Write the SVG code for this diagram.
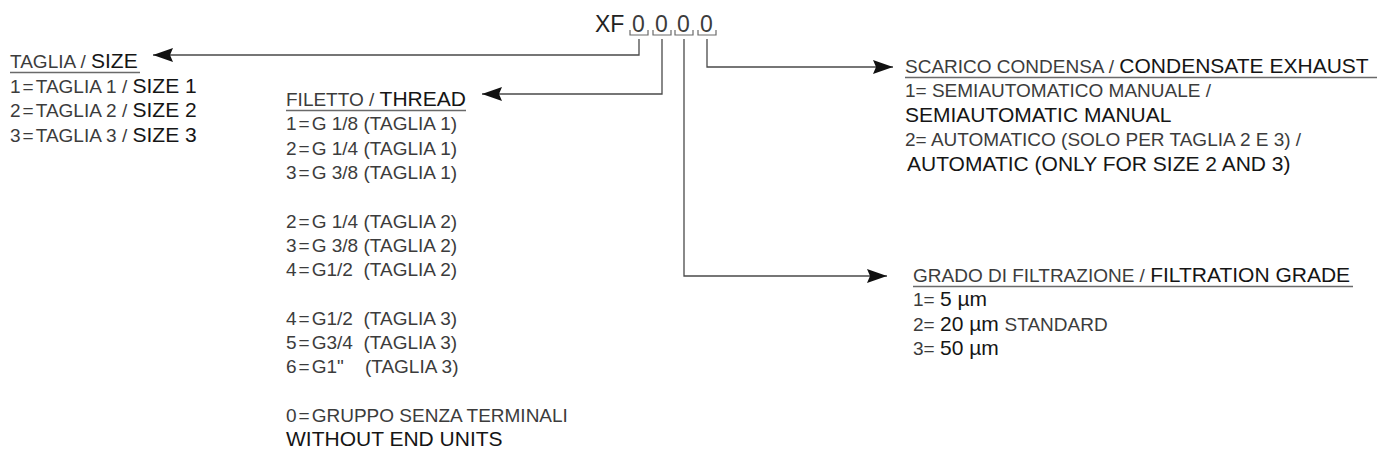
<svg xmlns="http://www.w3.org/2000/svg" width="1381" height="465" viewBox="0 0 1381 465">
<style>
text{font-family:"Liberation Sans",Arial,sans-serif;}
.it{font-size:19px;fill:#3c3c3c;}
.en{font-size:21px;fill:#151515;}
.ttl{font-size:23px;fill:#222;}
.z{font-size:23px;fill:#3c3c3c;text-anchor:middle;}
.ul{stroke:#6a6a6a;stroke-width:1.3;}
.conn{fill:none;stroke:#4a4a4a;stroke-width:1.3;}
.br{fill:none;stroke:#6a6a6a;stroke-width:1.2;}
</style>
<defs>
<marker id="ah" viewBox="0 0 20 14" refX="20" refY="7" markerWidth="20" markerHeight="14" markerUnits="userSpaceOnUse" orient="auto">
<path d="M0,0 L20,7 L0,14 L3,7 Z" fill="#111"/>
</marker>
</defs>
<rect width="1381" height="465" fill="#fff"/>

<g id="code">
<text x="595" y="32" class="ttl">XF</text>
<text x="638.5" y="32" class="z">0</text>
<text x="661.5" y="32" class="z">0</text>
<text x="683.5" y="32" class="z">0</text>
<text x="706.5" y="32" class="z">0</text>
<path class="br" d="M630,30 v5 h18 v-5 M653,30 v5 h18 v-5 M675,30 v5 h18 v-5 M698,30 v5 h18 v-5"/>
</g>

<g id="connectors">
<path class="conn" d="M639,39 V55 H153" marker-end="url(#ah)"/>
<path class="conn" d="M662,39 V94 H482" marker-end="url(#ah)"/>
<path class="conn" d="M684,39 V276 H887" marker-end="url(#ah)"/>
<path class="conn" d="M707,39 V67 H893" marker-end="url(#ah)"/>
</g>

<g id="size">
<text x="10" y="68"><tspan class="it">TAGLIA / </tspan><tspan class="en">SIZE</tspan></text>
<line class="ul" x1="10" y1="72.5" x2="140" y2="72.5"/>
<text x="10" y="92.5"><tspan class="it">1</tspan><tspan class="it" dx="2">=</tspan><tspan class="it" dx="2">TAGLIA 1 / </tspan><tspan class="en">SIZE 1</tspan></text>
<text x="10" y="117"><tspan class="it">2</tspan><tspan class="it" dx="2">=</tspan><tspan class="it" dx="2">TAGLIA 2 / </tspan><tspan class="en">SIZE 2</tspan></text>
<text x="10" y="141.5"><tspan class="it">3</tspan><tspan class="it" dx="2">=</tspan><tspan class="it" dx="2">TAGLIA 3 / </tspan><tspan class="en">SIZE 3</tspan></text>
</g>

<g id="thread">
<text x="286" y="106"><tspan class="it">FILETTO / </tspan><tspan class="en">THREAD</tspan></text>
<line class="ul" x1="286" y1="110.5" x2="466" y2="110.5"/>
<text class="it" x="286" y="130.3">1<tspan dx="2">=</tspan><tspan dx="2">G 1/8 (TAGLIA 1)</tspan></text>
<text class="it" x="286" y="154.6">2<tspan dx="2">=</tspan><tspan dx="2">G 1/4 (TAGLIA 1)</tspan></text>
<text class="it" x="286" y="178.9">3<tspan dx="2">=</tspan><tspan dx="2">G 3/8 (TAGLIA 1)</tspan></text>
<text class="it" x="286" y="227.5">2<tspan dx="2">=</tspan><tspan dx="2">G 1/4 (TAGLIA 2)</tspan></text>
<text class="it" x="286" y="251.8">3<tspan dx="2">=</tspan><tspan dx="2">G 3/8 (TAGLIA 2)</tspan></text>
<text class="it" x="286" y="276.1" xml:space="preserve">4<tspan dx="2">=</tspan><tspan dx="2">G1/2  (TAGLIA 2)</tspan></text>
<text class="it" x="286" y="324.7" xml:space="preserve">4<tspan dx="2">=</tspan><tspan dx="2">G1/2  (TAGLIA 3)</tspan></text>
<text class="it" x="286" y="349" xml:space="preserve">5<tspan dx="2">=</tspan><tspan dx="2">G3/4  (TAGLIA 3)</tspan></text>
<text class="it" x="286" y="373.3" xml:space="preserve">6<tspan dx="2">=</tspan><tspan dx="2">G1"    (TAGLIA 3)</tspan></text>
<text class="it" x="286" y="421.9">0<tspan dx="2">=</tspan><tspan dx="2">GRUPPO SENZA TERMINALI</tspan></text>
<text class="en" x="286" y="446.2">WITHOUT END UNITS</text>
</g>

<g id="exhaust">
<text x="905" y="73"><tspan class="it">SCARICO CONDENSA / </tspan><tspan class="en">CONDENSATE EXHAUST</tspan></text>
<line class="ul" x1="905" y1="77.5" x2="1377" y2="77.5"/>
<text class="it" x="905" y="97.4">1= SEMIAUTOMATICO MANUALE /</text>
<text class="en" x="905" y="121.8">SEMIAUTOMATIC MANUAL</text>
<text class="it" x="905" y="146.2">2= AUTOMATICO (SOLO PER TAGLIA 2 E 3) /</text>
<text class="en" x="907" y="170.6">AUTOMATIC (ONLY FOR SIZE 2 AND 3)</text>
</g>

<g id="filtration">
<text x="913" y="282"><tspan class="it">GRADO DI FILTRAZIONE / </tspan><tspan class="en">FILTRATION GRADE</tspan></text>
<line class="ul" x1="913" y1="286.5" x2="1353" y2="286.5"/>
<text x="913" y="306.4"><tspan class="it">1= </tspan><tspan class="en">5 µm</tspan></text>
<text x="913" y="330.8"><tspan class="it">2= </tspan><tspan class="en">20 µm </tspan><tspan class="it">STANDARD</tspan></text>
<text x="913" y="355.2"><tspan class="it">3= </tspan><tspan class="en">50 µm</tspan></text>
</g>
</svg>
